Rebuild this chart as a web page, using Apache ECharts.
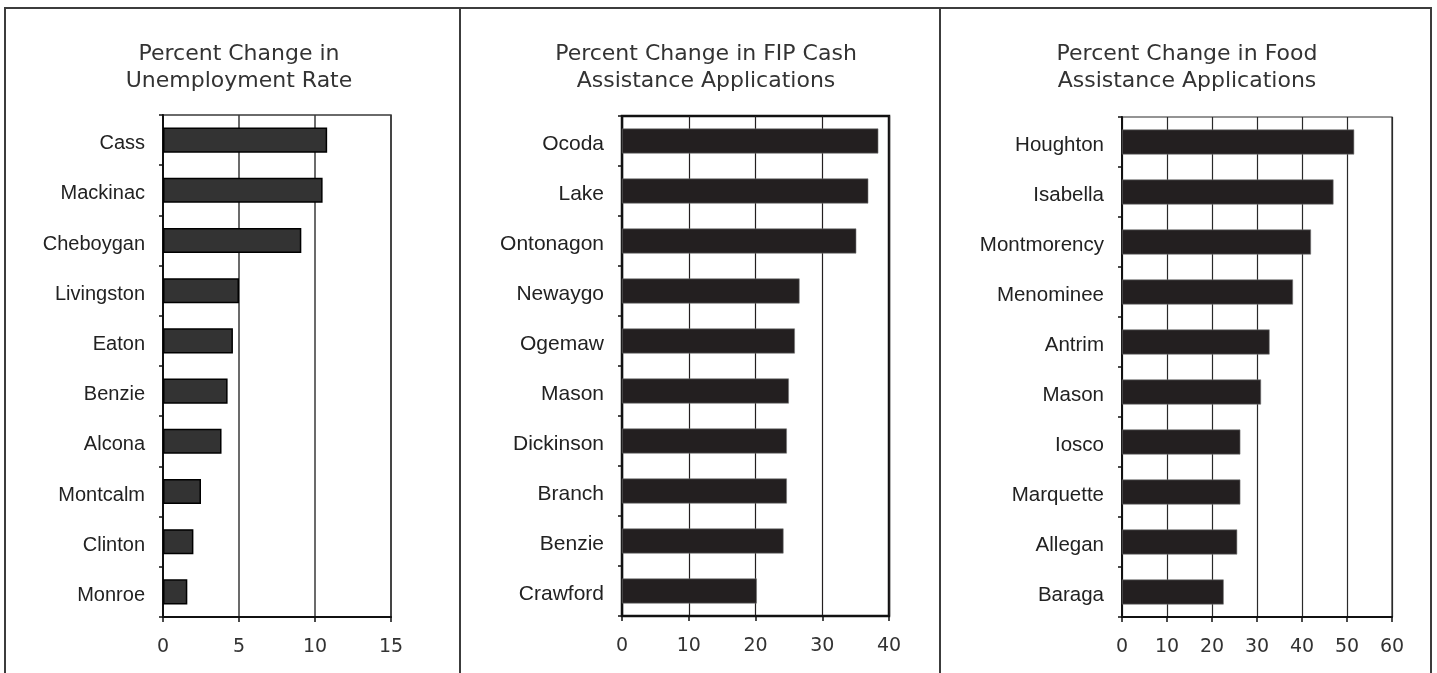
<!DOCTYPE html>
<html>
<head>
<meta charset="utf-8">
<script src="https://cdn.jsdelivr.net/npm/echarts@6/dist/echarts.min.js"></script>
<style>
  html, body { margin: 0; padding: 0; background: #fff; }
  #chart { position: absolute; left: 0; top: 0; width: 1437px; height: 673px; }
  .frame { position: absolute; left: 4px; top: 7px; width: 1424px; height: 700px;
           border: 2px solid #3c3c3c; border-bottom: none; pointer-events: none; }
  .sep { position: absolute; top: 7px; width: 2px; height: 666px; background: #3c3c3c; pointer-events: none; }
</style>
</head>
<body>
<div id="chart"></div>
<div class="frame"></div>
<div class="sep" style="left:459px"></div>
<div class="sep" style="left:939px"></div>
<script>
const unemploymentCounties = ['Cass', 'Mackinac', 'Cheboygan', 'Livingston', 'Eaton', 'Benzie', 'Alcona', 'Montcalm', 'Clinton', 'Monroe'];
const unemploymentValues = [10.8, 10.5, 9.1, 5.0, 4.6, 4.25, 3.85, 2.5, 2.0, 1.6];

const fipCounties = ['Ocoda', 'Lake', 'Ontonagon', 'Newaygo', 'Ogemaw', 'Mason', 'Dickinson', 'Branch', 'Benzie', 'Crawford'];
const fipValues = [38.4, 36.9, 35.1, 26.6, 25.9, 25.0, 24.7, 24.7, 24.2, 20.2];

const foodCounties = ['Houghton', 'Isabella', 'Montmorency', 'Menominee', 'Antrim', 'Mason', 'Iosco', 'Marquette', 'Allegan', 'Baraga'];
const foodValues = [51.6, 47.0, 42.0, 38.0, 32.8, 30.9, 26.3, 26.3, 25.6, 22.6];

const titles = [
  'Percent Change in\nUnemployment Rate',
  'Percent Change in FIP Cash\nAssistance Applications',
  'Percent Change in Food\nAssistance Applications',
];

const geoFont = '"DejaVu Sans", sans-serif';
const labelFont = '"Liberation Sans", Arial, sans-serif';

const panels = [
  { title: titles[0], cx: 234, grid: { left: 163, top: 115, width: 228, height: 502 },
    cats: unemploymentCounties, vals: unemploymentValues, max: 15, interval: 5, labelSize: 20,
    bar: { color: '#333333', borderColor: '#000', borderWidth: 1.5 },
    split: { color: '#3a3a3a', width: 1.5 }, border: { color: '#3a3a3a', width: 1.5 } },
  { title: titles[1], cx: 701, grid: { left: 622, top: 116, width: 267, height: 500 },
    cats: fipCounties, vals: fipValues, max: 40, interval: 10, labelSize: 21,
    bar: { color: '#231f20', borderColor: '#777', borderWidth: 0.6 },
    split: { color: '#231f20', width: 1.2 }, border: { color: '#111', width: 2.5 } },
  { title: titles[2], cx: 1182, grid: { left: 1122, top: 117, width: 270, height: 500 },
    cats: foodCounties, vals: foodValues, max: 60, interval: 10, labelSize: 20.5,
    bar: { color: '#231f20', borderColor: '#777', borderWidth: 0.6 },
    split: { color: '#2a2a2a', width: 1.2 }, border: { color: '#2a2a2a', width: 1.2 } },
];

const chart = echarts.init(document.getElementById('chart'));

const option = {
  animation: false,
  title: panels.map(p => ({
    text: p.title,
    left: p.cx,
    top: 36,
    textAlign: 'center',
    textStyle: { fontFamily: geoFont, fontSize: 22, fontWeight: 'normal', color: '#333', lineHeight: 27 },
  })),
  grid: panels.map(p => ({
    left: p.grid.left, top: p.grid.top, width: p.grid.width, height: p.grid.height,
    show: true, borderColor: p.border.color, borderWidth: p.border.width, backgroundColor: 'transparent',
  })),
  xAxis: panels.map((p, i) => ({
    type: 'value', gridIndex: i, min: 0, max: p.max, interval: p.interval,
    axisLine: { show: true, lineStyle: { color: '#111', width: 2 } },
    axisTick: { show: true, length: 5, lineStyle: { color: '#111', width: 1.5 } },
    axisLabel: { fontFamily: geoFont, fontSize: 19, color: '#333', margin: 21 },
    splitLine: { show: true, lineStyle: { color: p.split.color, width: p.split.width } },
  })),
  yAxis: panels.map((p, i) => ({
    type: 'category', gridIndex: i, data: p.cats, inverse: true,
    axisLine: { show: true, lineStyle: { color: '#111', width: 2 } },
    axisTick: { show: true, length: 4, lineStyle: { color: '#111', width: 1.5 } },
    axisLabel: {
      margin: 18,
      formatter: v => '{n|' + v + '}',
      rich: { n: { fontFamily: labelFont, fontSize: p.labelSize, color: '#222', padding: [7, 0, 0, 0] } },
    },
  })),
  series: panels.map((p, i) => ({
    type: 'bar', xAxisIndex: i, yAxisIndex: i, data: p.vals,
    barWidth: '50%',
    itemStyle: { color: p.bar.color, borderColor: p.bar.borderColor, borderWidth: p.bar.borderWidth },
  })),
};

chart.setOption(option);
</script>
</body>
</html>
